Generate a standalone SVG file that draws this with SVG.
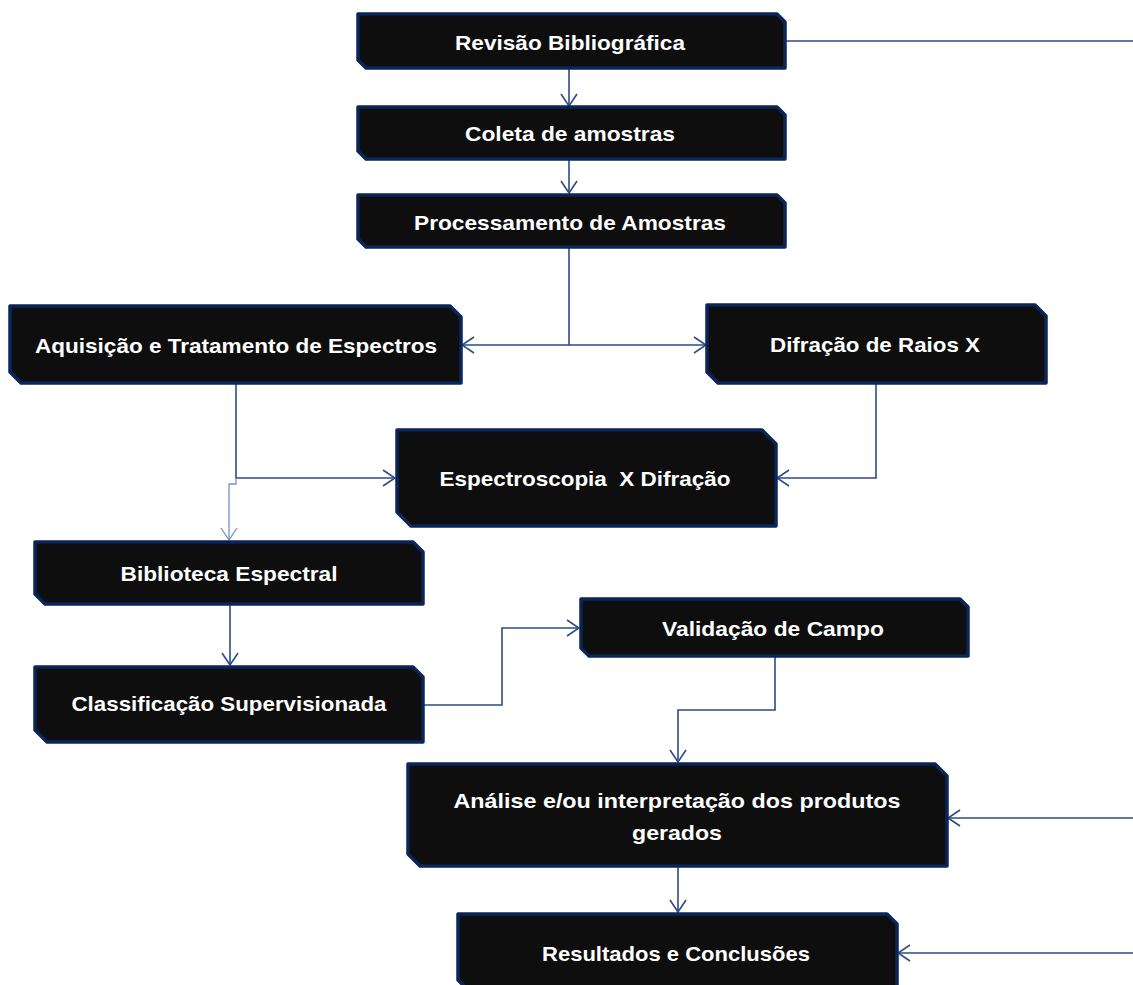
<svg xmlns="http://www.w3.org/2000/svg" width="1133" height="985" viewBox="0 0 1133 985">
<style>
.box{fill:#0e0e0e;stroke:#0b2559;stroke-width:3.5;stroke-linejoin:round}
.t{fill:#ffffff;font-family:"Liberation Sans",Arial,sans-serif;font-weight:bold;font-size:21px;text-anchor:middle;dominant-baseline:central;white-space:pre}
.c{fill:none;stroke:#2e4a86;stroke-width:1.6}
.cl{fill:none;stroke:#6f94c8;stroke-width:1.3}
</style>
<defs>
<marker id="ar" markerUnits="userSpaceOnUse" markerWidth="14" markerHeight="18" viewBox="0 0 14 18" refX="13" refY="9" orient="auto">
<path d="M1,1 L13,9 L1,17" fill="none" stroke="#2e4a86" stroke-width="1.6"/>
</marker>
<marker id="arl" markerUnits="userSpaceOnUse" markerWidth="14" markerHeight="18" viewBox="0 0 14 18" refX="13" refY="9" orient="auto">
<path d="M1,1 L13,9 L1,17" fill="none" stroke="#6f94c8" stroke-width="1.3"/>
</marker>
</defs>
<rect width="1133" height="985" fill="#ffffff"/>
<g id="connectors">
<path class="c" d="M785,41 H1133"/>
<path class="c" d="M569,68 V106" marker-end="url(#ar)"/>
<path class="c" d="M569,159 V193" marker-end="url(#ar)"/>
<path class="c" d="M569,247 V345 H462" marker-end="url(#ar)"/>
<path class="c" d="M569,345 H706" marker-end="url(#ar)"/>
<path class="c" d="M236,383 V478 H395" marker-end="url(#ar)"/>
<path class="cl" d="M236,478 V484 H229 V540" marker-end="url(#arl)"/>
<path class="c" d="M876,383 V478 H777" marker-end="url(#ar)"/>
<path class="c" d="M230,604 V665" marker-end="url(#ar)"/>
<path class="c" d="M423,705 H502 V628 H579" marker-end="url(#ar)"/>
<path class="c" d="M775,656 V710 H678 V762" marker-end="url(#ar)"/>
<path class="c" d="M1133,818 H948" marker-end="url(#ar)"/>
<path class="c" d="M678,866 V912" marker-end="url(#ar)"/>
<path class="c" d="M1133,953 H898" marker-end="url(#ar)"/>
</g>
<g id="n1"><path class="box" d="M358,14 H777 L785,22 V68 H366 L358,60 Z"/><text class="t" x="570" y="42" textLength="230" lengthAdjust="spacingAndGlyphs">Revisão Bibliográfica</text></g>
<g id="n2"><path class="box" d="M358,107 H777 L785,115 V159 H366 L358,151 Z"/><text class="t" x="570" y="133" textLength="210" lengthAdjust="spacingAndGlyphs">Coleta de amostras</text></g>
<g id="n3"><path class="box" d="M358,195 H777 L785,203 V247 H366 L358,239 Z"/><text class="t" x="570" y="222" textLength="312" lengthAdjust="spacingAndGlyphs">Processamento de Amostras</text></g>
<g id="n4"><path class="box" d="M10,306 H450 L461,317 V383 H21 L10,372 Z"/><text class="t" x="236" y="345" textLength="402" lengthAdjust="spacingAndGlyphs">Aquisição e Tratamento de Espectros</text></g>
<g id="n5"><path class="box" d="M707,305 H1035 L1046,316 V383 H718 L707,372 Z"/><text class="t" x="875" y="344" textLength="210" lengthAdjust="spacingAndGlyphs">Difração de Raios X</text></g>
<g id="n6"><path class="box" d="M397,430 H762 L776,444 V526 H411 L397,512 Z"/><text class="t" x="585" y="478" textLength="291" lengthAdjust="spacingAndGlyphs" xml:space="preserve">Espectroscopia  X Difração</text></g>
<g id="n7"><path class="box" d="M35,542 H413 L423,552 V604 H45 L35,594 Z"/><text class="t" x="229" y="573" textLength="217" lengthAdjust="spacingAndGlyphs">Biblioteca Espectral</text></g>
<g id="n8"><path class="box" d="M35,667 H413 L423,677 V742 H47 L35,730 Z"/><text class="t" x="229" y="703" textLength="315" lengthAdjust="spacingAndGlyphs">Classificação Supervisionada</text></g>
<g id="n9"><path class="box" d="M581,599 H960 L968,607 V656 H589 L581,648 Z"/><text class="t" x="773" y="628" textLength="222" lengthAdjust="spacingAndGlyphs">Validação de Campo</text></g>
<g id="n10"><path class="box" d="M408,764 H935 L947,776 V866 H420 L408,854 Z"/><text class="t" x="677" y="800" textLength="447" lengthAdjust="spacingAndGlyphs">Análise e/ou interpretação dos produtos</text><text class="t" x="677" y="832" textLength="90" lengthAdjust="spacingAndGlyphs">gerados</text></g>
<g id="n11"><path class="box" d="M458,914 H887 L897,924 V992 H470 L458,980 Z"/><text class="t" x="676" y="953" textLength="268" lengthAdjust="spacingAndGlyphs">Resultados e Conclusões</text></g>
</svg>
